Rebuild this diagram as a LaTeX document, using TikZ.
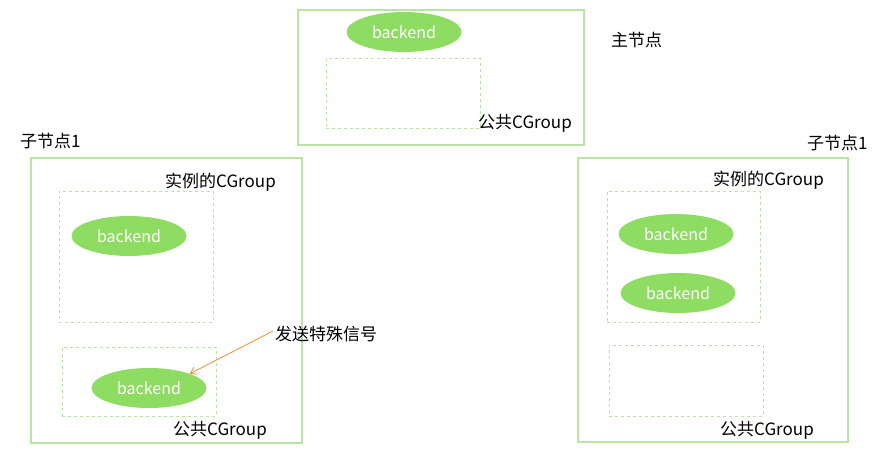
\documentclass[tikz,border=0pt]{standalone}
\usepackage{fontspec}
\setmainfont{Noto Sans CJK SC}
\usepackage{tikz}
\usetikzlibrary{arrows.meta, shapes.geometric, positioning}
\definecolor{boxgreen}{RGB}{186,228,165}
\definecolor{bkfill}{RGB}{142,220,98}
\definecolor{sigorange}{RGB}{238,140,62}

\begin{document}
\begin{tikzpicture}[
    x=1pt, y=-1pt,
    % Styles
    hostbox/.style={rectangle, draw=boxgreen, line width=1.3pt, inner sep=0pt},
    cgbox/.style={rectangle, draw=boxgreen, dashed, line width=0.9pt, inner sep=0pt},
    proc/.style={ellipse, fill=bkfill, minimum width=115pt, minimum height=40pt, inner sep=0pt, text=white, font=\fontsize{16}{18}\selectfont},
    lbl/.style={inner sep=0pt, anchor=west, font=\fontsize{17}{19}\selectfont},
    arrow/.style={-{Straight Barb[length=6pt, width=8pt]}, draw=sigorange, line width=0.8pt}
]
\useasboundingbox (0,0) rectangle (893,452);

% 1. MASTER
\node[hostbox, minimum width=286pt, minimum height=135pt] (master) at (441,77.5) {};
\node[proc] (be_m) at (404,32) {backend};
\node[cgbox, minimum width=154pt, minimum height=70pt] (pub_m) at (403,93) {};
\node[lbl] (pub_m_lbl) at (478,123) {公共CGroup};
\node[lbl] (master_lbl) at (611,40) {主节点};

% 2. CHILD NODE (left)
\node[lbl] (child_l_lbl) at (20,141) {子节点1};
\node[hostbox, minimum width=271pt, minimum height=285pt] (child_l) at (166.5,300.5) {};
\node[lbl] (inst_l_lbl) at (165,182) {实例的CGroup};
\node[cgbox, minimum width=154pt, minimum height=131pt] (inst_l) at (136,256.5) {};
\node[proc] (be_l1) at (129,236) {backend};
\node[cgbox, minimum width=154pt, minimum height=69pt] (pub_l) at (139,381.5) {};
\node[proc] (be_l2) at (149,388) {backend};
\node[lbl] (pub_l_lbl) at (173,430) {公共CGroup};
\node[lbl] (sig) at (275,334) {发送特殊信号};

% 3. CHILD NODE (right)
\node[lbl] (child_r_lbl) at (807,143) {子节点1};
\node[hostbox, minimum width=270pt, minimum height=284pt] (child_r) at (713,300) {};
\node[lbl] (inst_r_lbl) at (713,180) {实例的CGroup};
\node[cgbox, minimum width=153pt, minimum height=131pt] (inst_r) at (683.5,256.5) {};
\node[proc] (be_r1) at (676,234) {backend};
\node[proc] (be_r2) at (678,293) {backend};
\node[cgbox, minimum width=154pt, minimum height=71pt] (pub_r) at (686,380.5) {};
\node[lbl] (pub_r_lbl) at (720,430) {公共CGroup};

% SIGNAL ARROW
\draw[arrow] ([xshift=-2pt, yshift=3pt]sig.west) -- (be_l2.north east);

\end{tikzpicture}
\end{document}
